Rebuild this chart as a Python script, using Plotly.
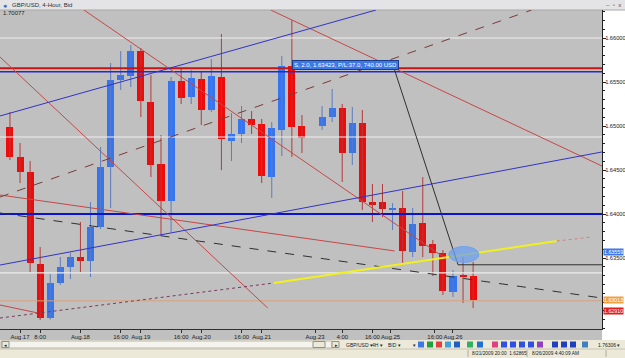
import plotly.graph_objects as go

# ---------------- data ----------------
bar_index = list(range(0, 30)) + list(range(31, 47))
opens = [1.64989, 1.64648, 1.64477, 1.63432, 1.62818, 1.63216, 1.63398, 1.63511, 1.63466, 1.63852,
         1.64534, 1.65523, 1.65568, 1.65852, 1.65273, 1.64568, 1.64148, 1.65511, 1.65330, 1.65534,
         1.65182, 1.65557, 1.64830, 1.64909, 1.65080, 1.65023, 1.64420, 1.64955, 1.65682, 1.65000,
         1.65000, 1.65102, 1.65205, 1.64693, 1.65034, 1.64136, 1.64136, 1.64045, 1.64068, 1.63568,
         1.63898, 1.63659, 1.63557, 1.63114, 1.63307, 1.63295]
highs = [1.65159, 1.64807, 1.64602, 1.63625, 1.63318, 1.63511, 1.63560, 1.63909, 1.64136, 1.64761,
         1.65716, 1.65852, 1.65920, 1.65886, 1.65580, 1.64898, 1.65557, 1.65648, 1.65636, 1.65614,
         1.65761, 1.66045, 1.65148, 1.65227, 1.65170, 1.65080, 1.65045, 1.65795, 1.66205, 1.65125,
         1.65227, 1.65420, 1.65250, 1.65216, 1.65182, 1.64341, 1.64341, 1.64125, 1.64261, 1.64068,
         1.64420, 1.63705, 1.63590, 1.63364, 1.63511, 1.63455]
lows = [1.64614, 1.64352, 1.63341, 1.62795, 1.62800, 1.63193, 1.63261, 1.63341, 1.63284, 1.63830,
        1.64068, 1.65409, 1.65443, 1.65102, 1.64420, 1.63761, 1.63795, 1.65250, 1.65250, 1.65011,
        1.65159, 1.64500, 1.64602, 1.64807, 1.64909, 1.64352, 1.64182, 1.64659, 1.64648, 1.64693,
        1.64955, 1.65045, 1.64364, 1.64557, 1.64045, 1.63909, 1.63966, 1.63818, 1.63420, 1.63511,
        1.63511, 1.63295, 1.63080, 1.63057, 1.62989, 1.62932]
closes = [1.64648, 1.64477, 1.63443, 1.62818, 1.63216, 1.63398, 1.63511, 1.63466, 1.63852, 1.64534,
          1.65523, 1.65580, 1.65852, 1.65284, 1.64557, 1.64148, 1.65511, 1.65318, 1.65545, 1.65182,
          1.65568, 1.64852, 1.64909, 1.65080, 1.65011, 1.64432, 1.64977, 1.65682, 1.64989, 1.64864,
          1.65102, 1.65205, 1.64693, 1.65034, 1.64136, 1.64102, 1.64057, 1.64068, 1.63580, 1.63886,
          1.63636, 1.63557, 1.63125, 1.63295, 1.63284, 1.63023]

tick_positions = [1, 3, 7, 11, 13, 17, 19, 23, 25, 30.3, 33, 36, 37.8, 42.2, 44]
tick_labels = ["Aug.17", "8:00", "Aug.18", "16:00", "Aug.19", "16:00", "Aug.20", "16:00",
               "Aug.21", "Aug.23", "4:00", "16:00", "Aug.25", "16:00", "Aug.26"]
price_ticks = [1.635, 1.640, 1.645, 1.650, 1.655, 1.660]
price_tick_labels = ["1.63500", "1.64000", "1.64500", "1.65000", "1.65500", "1.66000"]

x_range = [-0.99, 58.8]
y_range = [1.626932, 1.663182]

white_levels = [1.66000, 1.64875, 1.63330]
sell_level = 1.65655
buy_level = 1.65617
support_level = 1.64000
bid_level = 1.63013
entry_price = 1.63423

blue_channel_top = ([-0.99, 36.35], [1.65114, 1.66318])
blue_channel_bottom = ([-0.99, 58.8], [1.63420, 1.64705])
brown_dashed = ([-0.99, 51.8], [1.64193, 1.66318])
black_dashed = ([-0.99, 58.8], [1.64011, 1.63045])
red_lines = [([-0.99, 25.6], [1.65784, 1.62932]),
             ([7.35, 43.2], [1.66318, 1.63500]),
             ([25.9, 58.8], [1.66318, 1.64545]),
             ([-0.99, 38.2], [1.64216, 1.63580]),
             ([-0.99, 2.78], [1.62966, 1.62875])]
dotted_line = ([-0.99, 26.2], [1.62818, 1.63216])
yellow_line = ([26.2, 54.3], [1.63216, 1.63693])
dotted_tail = ([54.3, 57.8], [1.63693, 1.63739])
arrow_path = ([38.2, 44.5, 58.8], [1.65636, entry_price, entry_price])
ellipse_center = (45.08, 1.63540)
ellipse_half = (1.5, 0.00091)

trade_label = "S, 2.0, 1.63423, P/L:37.0, 740.00 USD"
trade_label_pos = (33.37, 1.65693)
price_tags = [("1.63559", 1.63568, "#3C78E6"),
              ("1.63013", 1.63013, "#F0A040"),
              ("1.62910", 1.62910, "#E01E1E")]
price_tag_nudge = [0, 1, -1]

# ---------------- figure ----------------
W, H = 625, 358
ML, MR, MT, MB = 0, 23, 10, 29
PW, PH = W - ML - MR, H - MT - MB


def px(x):
    return (x - ML) / PW


def py(y):
    return (H - MB - y) / PH


FONT = "Liberation Sans, Arial, sans-serif"
RED, BLUE = "#F00A0A", "#3575F2"

fig = go.Figure()

# candle bodies
body_base, body_len, body_col = [], [], []
for o, c in zip(opens, closes):
    body_base.append(min(o, c))
    body_len.append(max(abs(c - o), 0.00002))
    body_col.append(RED if c < o else BLUE)

# wicks
for col, wcol in ((RED, "#B33A3A"), (BLUE, "#5A7CC0")):
    wx, wy = [], []
    for i, o, h, l, c in zip(bar_index, opens, highs, lows, closes):
        if (RED if c < o else BLUE) == col:
            wx += [i, i, None]
            wy += [l, h, None]
    fig.add_trace(go.Scatter(x=wx, y=wy, mode="lines", line=dict(color=wcol, width=1),
                             hoverinfo="skip", showlegend=False))

fig.add_trace(go.Bar(x=bar_index, y=body_len, base=body_base, width=0.7,
                     marker=dict(color=body_col, line=dict(width=0)),
                     hoverinfo="skip", showlegend=False))


def add_line(xs, ys, color, width=1, dash="solid"):
    fig.add_trace(go.Scatter(x=xs, y=ys, mode="lines", line=dict(color=color, width=width, dash=dash),
                             hoverinfo="skip", showlegend=False))


for lv in white_levels:
    add_line(x_range, [lv, lv], "#EEEEEE", 1.2)
add_line(x_range, [sell_level, sell_level], "#C81414", 2)
add_line(x_range, [buy_level, buy_level], "#2828C8", 1.5)
add_line(x_range, [support_level, support_level], "#0A14C8", 2)
add_line(x_range, [bid_level, bid_level], "#DCA078", 1)

for xs, ys in red_lines:
    add_line(xs, ys, "#C84646", 1)
add_line(*blue_channel_top, "#3232C8", 1)
add_line(*blue_channel_bottom, "#3232C8", 1)
add_line(*brown_dashed, "#7A3A3A", 1, "dash")
add_line(*black_dashed, "#303030", 1, "dash")
add_line(*dotted_line, "#7A3A5A", 1, "dot")
add_line(*dotted_tail, "#D08080", 1, "dot")
add_line(*yellow_line, "#F0F020", 2)
add_line(*arrow_path, "#303030", 1)

shapes = []
# ellipse
cx, cy = ellipse_center
hx, hy = ellipse_half
shapes.append(dict(type="circle", xref="x", yref="y", x0=cx - hx, x1=cx + hx, y0=cy - hy, y1=cy + hy,
                   fillcolor="rgba(110,160,240,0.75)", line=dict(color="rgba(110,160,240,0.9)", width=1),
                   layer="above"))
# right axis white panel
shapes.append(dict(type="rect", xref="paper", yref="paper", x0=1, x1=px(W), y0=py(340), y1=1,
                   fillcolor="white", line=dict(width=0), layer="below"))
# title bar
shapes.append(dict(type="rect", xref="paper", yref="paper", x0=0, x1=px(W), y0=1, y1=py(0),
                   fillcolor="#E4E4E6", line=dict(width=0), layer="below"))
shapes.append(dict(type="line", xref="paper", yref="paper", x0=0, x1=px(W), y0=1, y1=1,
                   line=dict(color="#A8A8A8", width=1), layer="below"))
# scrollbar / toolbar row and status bar
shapes.append(dict(type="rect", xref="paper", yref="paper", x0=0, x1=px(W), y0=py(358), y1=py(340),
                   fillcolor="#ECE9D8", line=dict(width=0), layer="below"))
shapes.append(dict(type="rect", xref="paper", yref="paper", x0=px(1), x1=px(332), y0=py(348), y1=py(341),
                   fillcolor="#F4F3EE", line=dict(color="#B8B8B0", width=1), layer="below"))
shapes.append(dict(type="rect", xref="paper", yref="paper", x0=px(2), x1=px(9), y0=py(347.5), y1=py(341.5),
                   fillcolor="#ECE9D8", line=dict(color="#909090", width=1), layer="below"))
shapes.append(dict(type="rect", xref="paper", yref="paper", x0=px(313), x1=px(325), y0=py(347.5), y1=py(341.5),
                   fillcolor="#ECE9D8", line=dict(color="#909090", width=1), layer="below"))
shapes.append(dict(type="rect", xref="paper", yref="paper", x0=px(332), x1=px(339), y0=py(347.5), y1=py(341.5),
                   fillcolor="#ECE9D8", line=dict(color="#909090", width=1), layer="below"))
shapes.append(dict(type="line", xref="paper", yref="paper", x0=0, x1=px(W), y0=py(349), y1=py(349),
                   line=dict(color="#C8C4B4", width=1), layer="below"))
for sx in (468, 527, 606):
    shapes.append(dict(type="line", xref="paper", yref="paper", x0=px(sx), x1=px(sx), y0=py(357), y1=py(350),
                       line=dict(color="#B0AC9C", width=1), layer="below"))
# toolbar icons (small coloured squares)
icon_cols = ["#3C78E6", "#20A040", "#E04040", "#40A0E0", "#2060C0", "#30B060", "#2070D0",
             "#E04080", "#3050E0", "#3050E0", "#3050E0", "#3050E0", "#9040C0", "#2040C0", "#2040C0",
             "#2040C0", "#4080C0"]
icon_xs = [418, 427, 436, 445, 454, 467, 477, 492, 501, 510, 519, 528, 537, 552, 561, 570, 582]
for ix, ic in zip(icon_xs, icon_cols):
    shapes.append(dict(type="rect", xref="paper", yref="paper", x0=px(ix), x1=px(ix + 6),
                       y0=py(347.5), y1=py(341.5), fillcolor=ic, line=dict(width=0), layer="below"))

annotations = []
annotations.append(dict(text=trade_label, x=trade_label_pos[0], y=trade_label_pos[1], xref="x", yref="y",
                        showarrow=False, font=dict(family=FONT, size=6, color="white"),
                        bgcolor="#3C78E6", bordercolor="#1E3C8C", borderwidth=1, borderpad=1))
for (txt, val, col), nudge in zip(price_tags, price_tag_nudge):
    annotations.append(dict(text=txt, x=1, y=val, xref="paper", yref="y", xanchor="left", yanchor="middle",
                            xshift=1, yshift=nudge, showarrow=False,
                            font=dict(family=FONT, size=5.3, color="white"),
                            bgcolor=col, borderpad=0))
annotations.append(dict(text="1.70077", x=px(1), y=py(13), xref="paper", yref="paper", xanchor="left",
                        yanchor="middle", showarrow=False, font=dict(family=FONT, size=6, color="#202020")))
annotations.append(dict(text="GBP/USD, 4-Hour, Bid", x=px(10), y=py(5), xref="paper", yref="paper",
                        xanchor="left", yanchor="middle", showarrow=False,
                        font=dict(family=FONT, size=6, color="#303030")))
annotations.append(dict(text="●", x=px(1), y=py(5), xref="paper", yref="paper", xanchor="left",
                        yanchor="middle", showarrow=False, font=dict(family=FONT, size=7, color="#3A6EC0")))
annotations.append(dict(text="–  ▫  x", x=px(623), y=py(5), xref="paper", yref="paper", xanchor="right",
                        yanchor="middle", showarrow=False, font=dict(family=FONT, size=6, color="#505050")))
toolbar_items = [("◂", 2), ("▸", 333), ("GBP/USD ▾", 344), ("4H ▾", 370), ("BID ▾", 386), ("▾", 411),
                 ("1.76306 ▾", 596)]
for txt, tx in toolbar_items:
    annotations.append(dict(text=txt, x=px(tx), y=py(344.5), xref="paper", yref="paper", xanchor="left",
                            yanchor="middle", showarrow=False, font=dict(family=FONT, size=5, color="#202020")))
status_items = [("8/21/2009 20:00  1.62865", 470), ("8/26/2009 4:40:09 AM", 530)]
for txt, tx in status_items:
    annotations.append(dict(text=txt, x=px(tx), y=py(353.5), xref="paper", yref="paper", xanchor="left",
                            yanchor="middle", showarrow=False, font=dict(family=FONT, size=4.8, color="#202020")))

fig.update_layout(
    width=W, height=H, margin=dict(l=ML, r=MR, t=MT, b=MB, pad=0, autoexpand=False),
    paper_bgcolor="#C0C0C0", plot_bgcolor="#C0C0C0",
    shapes=shapes, annotations=annotations, showlegend=False, bargap=0,
    xaxis=dict(range=x_range, showgrid=False, zeroline=False, tickmode="array",
               tickvals=tick_positions, ticktext=tick_labels, ticks="outside", ticklen=3,
               tickangle=0, tickcolor="#303030", showline=True, linecolor="#303030", linewidth=1,
               tickfont=dict(family=FONT, size=6, color="#202020"), automargin=False, fixedrange=True,
               ticklabelstandoff=-1),
    yaxis=dict(range=y_range, side="right", showgrid=False, zeroline=False, tickmode="array",
               tickvals=price_ticks, ticktext=price_tick_labels, ticks="outside", ticklen=3,
               tickcolor="#202020", showline=True, linecolor="#202020", linewidth=1,
               tickfont=dict(family=FONT, size=5.7, color="#202020"), automargin=False,
               ticklabelstandoff=-2,
               minor=dict(tickmode="linear", tick0=1.63, dtick=0.001, ticks="outside", ticklen=2,
                          tickcolor="#202020"), fixedrange=True),
)

fig.write_html("out.html")
